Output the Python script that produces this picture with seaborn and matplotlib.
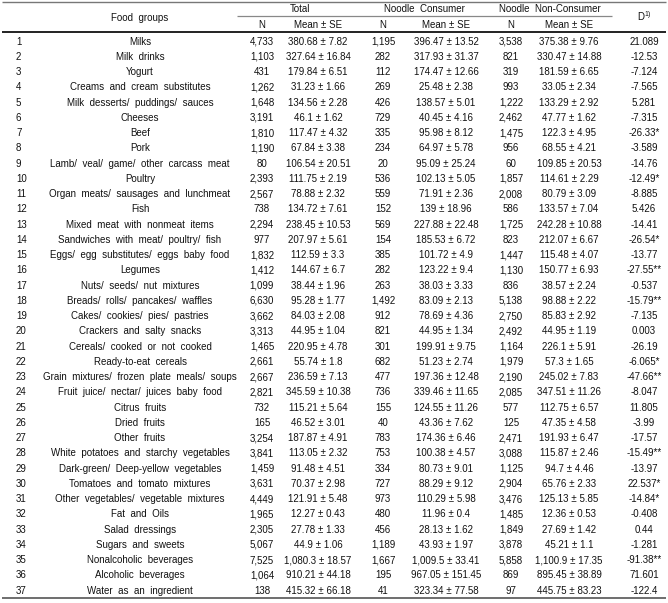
import matplotlib
matplotlib.use("Agg")
import matplotlib.pyplot as plt
import seaborn as sns

sns.set_theme(style="white")
plt.rcParams['font.family'] = ['Liberation Sans', 'DejaVu Sans']
plt.rcParams['mathtext.fontset'] = 'custom'
plt.rcParams['mathtext.rm'] = 'Liberation Sans'

foods = ["Milks", "Milk drinks", "Yogurt", "Creams and cream substitutes",
         "Milk desserts/ puddings/ sauces", "Cheeses", "Beef", "Pork",
         "Lamb/ veal/ game/ other carcass meat", "Poultry",
         "Organ meats/ sausages and lunchmeat", "Fish",
         "Mixed meat with nonmeat items", "Sandwiches with meat/ poultry/ fish",
         "Eggs/ egg substitutes/ eggs baby food", "Legumes",
         "Nuts/ seeds/ nut mixtures", "Breads/ rolls/ pancakes/ waffles",
         "Cakes/ cookies/ pies/ pastries", "Crackers and salty snacks",
         "Cereals/ cooked or not cooked", "Ready-to-eat cereals",
         "Grain mixtures/ frozen plate meals/ soups",
         "Fruit juice/ nectar/ juices baby food", "Citrus fruits", "Dried fruits",
         "Other fruits", "White potatoes and starchy vegetables",
         "Dark-green/ Deep-yellow vegetables", "Tomatoes and tomato mixtures",
         "Other vegetables/ vegetable mixtures", "Fat and Oils", "Salad dressings",
         "Sugars and sweets", "Nonalcoholic beverages", "Alcoholic beverages",
         "Water as an ingredient"]

n_total = [4733, 1103, 431, 1262, 1648, 3191, 1810, 1190, 80, 2393, 2567, 738, 2294,
           977, 1832, 1412, 1099, 6630, 3662, 3313, 1465, 2661, 2667, 2821, 732, 165,
           3254, 3841, 1459, 3631, 4449, 1965, 2305, 5067, 7525, 1064, 138]
mean_total = [380.68, 327.64, 179.84, 31.23, 134.56, 46.1, 117.47, 67.84, 106.54,
              111.75, 78.88, 134.72, 238.45, 207.97, 112.59, 144.67, 38.44, 95.28,
              84.03, 44.95, 220.95, 55.74, 236.59, 345.59, 115.21, 46.52, 187.87,
              113.05, 91.48, 70.37, 121.91, 12.27, 27.78, 44.9, 1080.3, 910.21, 415.32]
se_total = [7.82, 16.84, 6.51, 1.66, 2.28, 1.62, 4.32, 3.38, 20.51, 2.19, 2.32, 7.61,
            10.53, 5.61, 3.3, 6.7, 1.96, 1.77, 2.08, 1.04, 4.78, 1.8, 7.13, 10.38,
            5.64, 3.01, 4.91, 2.32, 4.51, 2.98, 5.48, 0.43, 1.33, 1.06, 18.57, 44.18,
            66.18]
n_con = [1195, 282, 112, 269, 426, 729, 335, 234, 20, 536, 559, 152, 569, 154, 385,
         282, 263, 1492, 912, 821, 301, 682, 477, 736, 155, 40, 783, 753, 334, 727,
         973, 480, 456, 1189, 1667, 195, 41]
mean_con = [396.47, 317.93, 174.47, 25.48, 138.57, 40.45, 95.98, 64.97, 95.09, 102.13,
            71.91, 139, 227.88, 185.53, 101.72, 123.22, 38.03, 83.09, 78.69, 44.95,
            199.91, 51.23, 197.36, 339.46, 124.55, 43.36, 174.36, 100.38, 80.73, 88.29,
            110.29, 11.96, 28.13, 43.93, 1009.5, 967.05, 323.34]
se_con = [13.52, 31.37, 12.66, 2.38, 5.01, 4.16, 8.12, 5.78, 25.24, 5.05, 2.36, 18.96,
          22.48, 6.72, 4.9, 9.4, 3.33, 2.13, 4.36, 1.34, 9.75, 2.74, 12.48, 11.65,
          11.26, 7.62, 6.46, 4.57, 9.01, 9.12, 5.98, 0.4, 1.62, 1.97, 33.41, 151.45,
          77.58]
n_non = [3538, 821, 319, 993, 1222, 2462, 1475, 956, 60, 1857, 2008, 586, 1725, 823,
         1447, 1130, 836, 5138, 2750, 2492, 1164, 1979, 2190, 2085, 577, 125, 2471,
         3088, 1125, 2904, 3476, 1485, 1849, 3878, 5858, 869, 97]
mean_non = [375.38, 330.47, 181.59, 33.05, 133.29, 47.77, 122.3, 68.55, 109.85, 114.61,
            80.79, 133.57, 242.28, 212.07, 115.48, 150.77, 38.57, 98.88, 85.83, 44.95,
            226.1, 57.3, 245.02, 347.51, 112.75, 47.35, 191.93, 115.87, 94.7, 65.76,
            125.13, 12.36, 27.69, 45.21, 1100.9, 895.45, 445.75]
se_non = [9.76, 14.88, 6.65, 2.34, 2.92, 1.62, 4.95, 4.21, 20.53, 2.29, 3.09, 7.04,
          10.88, 6.67, 4.07, 6.93, 2.24, 2.22, 2.92, 1.19, 5.91, 1.65, 7.83, 11.26,
          6.57, 4.58, 6.47, 2.46, 4.46, 2.33, 5.85, 0.53, 1.42, 1.1, 17.35, 38.89,
          83.23]
diff = [21.089, -12.53, -7.124, -7.565, 5.281, -7.315, -26.33, -3.589, -14.76, -12.49,
        -8.885, 5.426, -14.41, -26.54, -13.77, -27.55, -0.537, -15.79, -7.135, 0.003,
        -26.19, -6.065, -47.66, -8.047, 11.805, -3.99, -17.57, -15.49, -13.97, 22.537,
        -14.84, -0.408, 0.44, -1.281, -91.38, 71.601, -122.4]
sig = ["", "", "", "", "", "", "*", "", "", "*", "", "", "", "*", "", "**", "", "**",
       "", "", "", "*", "**", "", "", "", "", "**", "", "*", "*", "", "", "", "**", "",
       ""]

group_headers = ["Total", "Noodle  Consumer", "Noodle  Non-Consumer"]
sub_headers = ["N", "Mean \u00b1 SE"]

# ---- layout ----
W, H = 668, 603
fig = plt.figure(figsize=(W / 100, H / 100), dpi=100)
ax = fig.add_axes([0, 0, 1, 1])
ax.set_axis_off()
ax.set_xlim(0, W)
row_h = 15.25
y0 = 41.0
ax.set_ylim((H - y0) / row_h, -y0 / row_h)


def py(p):
    return (p - y0) / row_h


fs = 7
base = 3.6 / row_h          # baseline offset below the row centre
x_idx = 16
x_food = 140
x_group = [300, 424, 550]
x_cols = [262, 318, 383, 446, 511, 569]
x_d = 644
x_line_l, x_line_r = 2, 666

# horizontal rules
ax.hlines(py(2), x_line_l, x_line_r, color="#777777", lw=1.0)
ax.hlines(py(15.5), 237, 612, color="#888888", lw=0.9)
ax.hlines(py(31.5), x_line_l, x_line_r, color="#222222", lw=1.4)
ax.hlines(py(598), x_line_l, x_line_r, color="#555555", lw=1.2)

va = "baseline"


def put(x, y, s, ha="center"):
    ax.text(x, y + base, s, ha=ha, va=va, fontsize=fs, color="#111111")


# headers
put(x_food, py(17), "Food  groups")
for g, label in enumerate(group_headers):
    put(x_group[g], py(8), label)
    for k in range(2):
        put(x_cols[2 * g + k], py(24), sub_headers[k])
put(x_d, py(17), r"D$^{\mathregular{1)}}$")


def fmt(v):
    return f"{v:,}"


for i, food in enumerate(foods):
    put(x_idx, i, str(i + 1), ha="left")
    put(x_food, i, food.replace(" ", "  "))
    vals = [fmt(n_total[i]), f"{fmt(mean_total[i])} \u00b1 {fmt(se_total[i])}",
            fmt(n_con[i]), f"{fmt(mean_con[i])} \u00b1 {fmt(se_con[i])}",
            fmt(n_non[i]), f"{fmt(mean_non[i])} \u00b1 {fmt(se_non[i])}"]
    for xc, s in zip(x_cols, vals):
        put(xc, i, s)
    put(x_d, i, f"{fmt(diff[i])}{sig[i]}")

fig.savefig("out.png", dpi=100)
